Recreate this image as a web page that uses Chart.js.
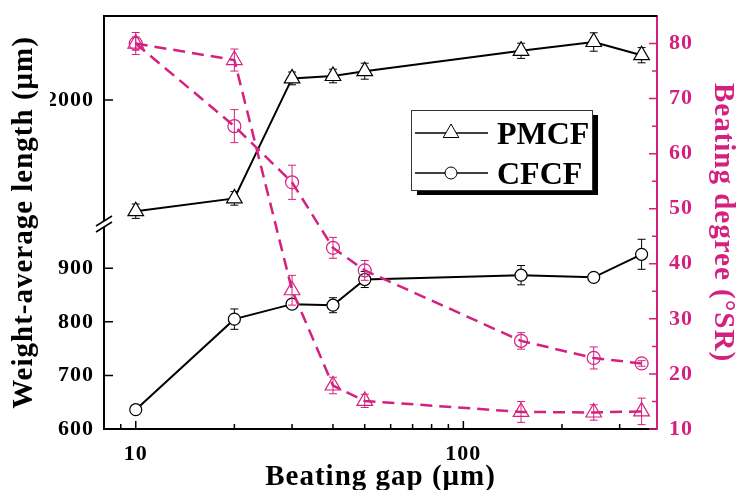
<!DOCTYPE html>
<html>
<head>
<meta charset="utf-8">
<title>Beating gap</title>
<script src="https://cdn.jsdelivr.net/npm/chart.js@4.4.1/dist/chart.umd.min.js"></script>
<style>
  html, body { margin: 0; padding: 0; background: #fff; }
</style>
</head>
<body>
<canvas id="chart" width="738" height="490"></canvas>
<script>
// values
const gaps = [10, 20, 30, 40, 50, 150, 250, 350];

const pmcfLength = [1722, 1754, 2054, 2060, 2072, 2123, 2145, 2112];
const pmcfLengthErr = [18, 17, 16, 17, 20, 19, 23, 19];
const cfcfLength = [636, 805, 833, 831, 879, 887, 883, 926];
const cfcfLengthErr = [7, 19, 7, 14, 15, 18, 6, 28];

const pmcfDegree = [80, 77, 35.2, 17.9, 15.1, 13.1, 13, 13.2];
const pmcfDegreeErr = [2, 2, 2.7, 1.5, 1.2, 1.9, 1.4, 2.4];
const cfcfDegree = [80, 65, 54.8, 42.9, 38.8, 26, 22.9, 21.9];
const cfcfDegreeErr = [1.2, 3, 3.1, 1.9, 1.8, 1.5, 2, 0.5];

// tick labels
const xMajorTicks = [10, 100];
const xMinorTicks = [9, 20, 30, 40, 50, 60, 70, 80, 90, 200, 300];
const lowTicks = [600, 700, 800, 900];
const highTicks = [2000];
const degreeTicks = [10, 20, 30, 40, 50, 60, 70, 80];
const degreeMinor = [15, 25, 35, 45, 55, 65, 75];

const PINK = '#d4217f';
const FONT = "'Liberation Serif', 'Times New Roman', serif";
const tickFont = { family: FONT, size: 22, weight: 'bold' };
const titleFont = { family: FONT, size: 29, weight: 'bold', lineHeight: 1 };

function points(ys) {
    return gaps.map((g, i) => ({ x: g, y: ys[i] }));
}

// labels would otherwise push the plot area down
function noPad(s) {
    s.paddingTop = 0;
    s.paddingBottom = 0;
    s.paddingLeft = 0;
    s.paddingRight = 0;
}

// the figure's type is a bit wider than plain Times
const wideText = {
    id: 'wideText',
    beforeLayout(chart) { chart.ctx.letterSpacing = '1px'; },
    beforeDraw(chart) { chart.ctx.letterSpacing = '1px'; }
};

// error bars, drawn just before each dataset so markers sit on top
const errorBars = {
    id: 'errorBars',
    beforeDatasetDraw(chart, args) {
        const ds = chart.data.datasets[args.index];
        if (!ds.errors) return;
        const { ctx } = chart;
        const xs = chart.scales.x;
        const ys = chart.scales[ds.yAxisID];
        ctx.save();
        ctx.strokeStyle = ds.borderColor;
        ctx.lineWidth = 1;
        ds.data.forEach((p, i) => {
            const x = xs.getPixelForValue(p.x);
            const y1 = ys.getPixelForValue(p.y + ds.errors[i]);
            const y2 = ys.getPixelForValue(p.y - ds.errors[i]);
            ctx.beginPath();
            ctx.moveTo(x, y1); ctx.lineTo(x, y2);
            ctx.moveTo(x - 4, y1); ctx.lineTo(x + 4, y1);
            ctx.moveTo(x - 4, y2); ctx.lineTo(x + 4, y2);
            ctx.stroke();
        });
        ctx.restore();
    }
};

// inward tick marks, top frame line and the axis break
const frame = {
    id: 'frame',
    afterDraw(chart) {
        const { ctx, chartArea: a, scales } = chart;
        ctx.save();
        ctx.lineWidth = 1.5;
        ctx.strokeStyle = '#000';
        ctx.beginPath();
        scales.x.ticks.forEach(t => {
            const px = scales.x.getPixelForValue(t.value);
            const len = xMajorTicks.includes(t.value) ? 8 : 5;
            ctx.moveTo(px, a.bottom); ctx.lineTo(px, a.bottom - len);
        });
        ['yLow', 'yHigh'].forEach(id => {
            scales[id].ticks.forEach(t => {
                const py = scales[id].getPixelForValue(t.value);
                ctx.moveTo(a.left, py); ctx.lineTo(a.left + 9, py);
            });
        });
        ctx.stroke();

        ctx.lineWidth = 2;
        ctx.beginPath();
        ctx.moveTo(a.left - 1, a.top); ctx.lineTo(a.right, a.top);
        ctx.stroke();

        ctx.strokeStyle = PINK;
        ctx.lineWidth = 1.5;
        ctx.beginPath();
        scales.y2.ticks.forEach(t => {
            const py = scales.y2.getPixelForValue(t.value);
            const len = degreeTicks.includes(t.value) ? 8 : 5;
            ctx.moveTo(a.right, py); ctx.lineTo(a.right - len, py);
        });
        ctx.stroke();

        // break mark on the left axis
        const by = scales.yHigh.bottom;
        const bx = a.left;
        ctx.fillStyle = '#fff';
        ctx.beginPath();
        ctx.moveTo(bx - 8, by + 6); ctx.lineTo(bx + 8, by - 4);
        ctx.lineTo(bx + 8, by + 2); ctx.lineTo(bx - 8, by + 12);
        ctx.closePath();
        ctx.fill();
        ctx.strokeStyle = '#000';
        ctx.lineWidth = 1.5;
        ctx.beginPath();
        ctx.moveTo(bx - 8, by + 6); ctx.lineTo(bx + 8, by - 4);
        ctx.moveTo(bx - 8, by + 12); ctx.lineTo(bx + 8, by + 2);
        ctx.stroke();
        ctx.restore();
    }
};

function drawMarker(ctx, style, x, y, r) {
    ctx.beginPath();
    if (style === 'triangle') {
        ctx.moveTo(x, y - r);
        ctx.lineTo(x + r * 0.866, y + r * 0.5);
        ctx.lineTo(x - r * 0.866, y + r * 0.5);
        ctx.closePath();
    } else {
        ctx.arc(x, y, r, 0, Math.PI * 2);
    }
    ctx.fill();
    ctx.stroke();
}

// boxed legend with a drop shadow
const boxLegend = {
    id: 'boxLegend',
    afterDraw(chart) {
        const { ctx } = chart;
        const bx = 411, by = 110, bw = 181, bh = 80;
        ctx.save();
        ctx.letterSpacing = '0px';
        ctx.fillStyle = '#000';
        ctx.fillRect(bx + 6, by + 5, bw, bh);
        ctx.fillStyle = '#fff';
        ctx.fillRect(bx, by, bw, bh);
        ctx.strokeStyle = '#333';
        ctx.lineWidth = 1;
        ctx.strokeRect(bx + 0.5, by + 0.5, bw, bh);
        const rows = [133, 173];
        chart.data.datasets.slice(0, 2).forEach((ds, i) => {
            const y = rows[i];
            ctx.strokeStyle = '#000';
            ctx.lineWidth = 1.5;
            ctx.beginPath();
            ctx.moveTo(415, y); ctx.lineTo(488, y);
            ctx.stroke();
            ctx.fillStyle = '#fff';
            ctx.lineWidth = 1;
            drawMarker(ctx, ds.pointStyle, 451, y, ds.pointStyle === 'triangle' ? 9 : 6);
            ctx.fillStyle = '#000';
            ctx.font = 'bold 32px ' + FONT;
            ctx.textBaseline = 'alphabetic';
            ctx.fillText(ds.label, 497, y + 11);
        });
        ctx.restore();
    }
};

new Chart(document.getElementById('chart'), {
    type: 'line',
    data: {
        datasets: [
            {
                label: 'PMCF', data: points(pmcfLength), errors: pmcfLengthErr, yAxisID: 'yHigh',
                borderColor: '#000', borderWidth: 2, pointStyle: 'triangle', pointRadius: 9,
                pointBorderWidth: 1.2, pointBackgroundColor: '#fff', pointBorderColor: '#000', order: 3
            },
            {
                label: 'CFCF', data: points(cfcfLength), errors: cfcfLengthErr, yAxisID: 'yLow',
                borderColor: '#000', borderWidth: 2, pointStyle: 'circle', pointRadius: 6,
                pointBorderWidth: 1.2, pointBackgroundColor: '#fff', pointBorderColor: '#000', order: 4
            },
            {
                label: 'PMCF beating degree', data: points(pmcfDegree), errors: pmcfDegreeErr, yAxisID: 'y2',
                borderColor: PINK, borderWidth: 2.5, borderDash: [12, 7], pointStyle: 'triangle', pointRadius: 9,
                pointBorderWidth: 1.2, pointBackgroundColor: 'rgba(255,255,255,0)', pointBorderColor: PINK, order: 1
            },
            {
                label: 'CFCF beating degree', data: points(cfcfDegree), errors: cfcfDegreeErr, yAxisID: 'y2',
                borderColor: PINK, borderWidth: 2.5, borderDash: [12, 7], pointStyle: 'circle', pointRadius: 6.5,
                pointBorderWidth: 1.2, pointBackgroundColor: 'rgba(255,255,255,0)', pointBorderColor: PINK, order: 2
            }
        ]
    },
    options: {
        responsive: false,
        animation: false,
        layout: { padding: { top: 16, left: 0, right: 0, bottom: 0 } },
        plugins: { legend: { display: false }, tooltip: { enabled: false } },
        scales: {
            x: {
                type: 'logarithmic', position: 'bottom', min: 8, max: 390,
                afterBuildTicks: s => {
                    s.ticks = xMajorTicks.concat(xMinorTicks).sort((a, b) => a - b).map(v => ({ value: v }));
                },
                afterFit: s => { s.height = 61; noPad(s); },
                grid: { display: false, drawTicks: false },
                border: { color: '#000', width: 2 },
                ticks: {
                    autoSkip: false, maxRotation: 0, padding: 12, color: '#000', font: tickFont,
                    callback: v => xMajorTicks.includes(v) ? String(v) : ''
                },
                title: {
                    display: true, text: 'Beating gap (μm)', color: '#000', font: titleFont,
                    padding: { top: 0, bottom: -2 }
                }
            },
            yTitle: {
                type: 'linear', position: 'left', weight: 10,
                afterFit: s => { s.width = 50; noPad(s); },
                grid: { display: false, drawTicks: false },
                border: { display: false },
                ticks: { display: false },
                title: {
                    display: true, text: 'Weight-average length (μm)', color: '#000', font: titleFont,
                    padding: { top: 10, bottom: 0 }
                }
            },
            yLow: {
                type: 'linear', position: 'left', stack: 'left', stackWeight: 209, min: 600, max: 990,
                afterBuildTicks: s => { s.ticks = lowTicks.map(v => ({ value: v })); },
                afterFit: s => { s.width = 54; noPad(s); },
                grid: { display: false, drawTicks: false },
                border: { color: '#000', width: 2 },
                ticks: { padding: 10, color: '#000', font: tickFont, callback: v => String(v) }
            },
            yHigh: {
                type: 'linear', position: 'left', stack: 'left', stackWeight: 204, min: 1700, max: 2210,
                afterBuildTicks: s => { s.ticks = highTicks.map(v => ({ value: v })); },
                afterFit: s => { s.width = 54; noPad(s); },
                grid: { display: false, drawTicks: false },
                border: { color: '#000', width: 2 },
                ticks: { padding: 10, color: '#000', font: tickFont, callback: v => String(v) }
            },
            y2: {
                type: 'linear', position: 'right', min: 10, max: 85,
                afterBuildTicks: s => {
                    s.ticks = degreeTicks.concat(degreeMinor).sort((a, b) => a - b).map(v => ({ value: v }));
                },
                afterFit: s => { s.width = 81; noPad(s); },
                grid: { display: false, drawTicks: false },
                border: { color: PINK, width: 2 },
                ticks: {
                    autoSkip: false, padding: 12, color: PINK, font: tickFont,
                    callback: v => degreeTicks.includes(v) ? String(v) : ''
                },
                title: {
                    display: true, text: 'Beating degree (°SR)', color: PINK, font: titleFont,
                    padding: { top: 1.5, bottom: 0 }
                }
            }
        }
    },
    plugins: [wideText, errorBars, frame, boxLegend]
});
</script>
</body>
</html>
